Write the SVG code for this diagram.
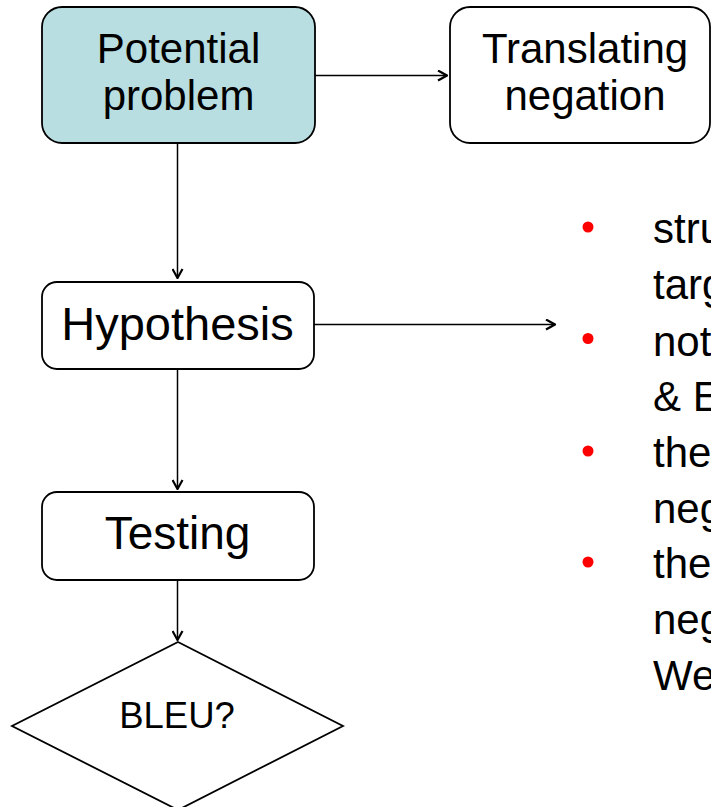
<svg xmlns="http://www.w3.org/2000/svg" width="711" height="807" viewBox="0 0 711 807">
  <style>
    .box { fill: #ffffff; stroke: #000000; stroke-width: 1.8; }
    .hl { fill: #b9dee1; }
    .lbl { font-family: "Liberation Sans", Arial, sans-serif; fill: #000000; text-anchor: middle; }
    .body { font-family: "Liberation Sans", Arial, sans-serif; fill: #000000; font-size: 42px; }
    .edge { stroke: #000000; stroke-width: 1.5; fill: none; marker-end: url(#arrow); }
    .dot { fill: #ff0000; }
  </style>
  <defs>
    <marker id="arrow" viewBox="0 0 12 12" refX="11" refY="6" markerWidth="12" markerHeight="12" markerUnits="userSpaceOnUse" orient="auto">
      <path d="M2,1 L11,6 L2,11" fill="none" stroke="#000000" stroke-width="2.2"/>
    </marker>
  </defs>
  <rect width="711" height="807" fill="#ffffff"/>

  <g id="connectors">
    <line class="edge" x1="315" y1="75.5" x2="447" y2="75.5"/>
    <line class="edge" x1="177.5" y1="143" x2="177.5" y2="278"/>
    <line class="edge" x1="314" y1="324.5" x2="555" y2="324.5"/>
    <line class="edge" x1="177.5" y1="369" x2="177.5" y2="489"/>
    <line class="edge" x1="177.5" y1="580" x2="177.5" y2="640"/>
  </g>

  <g id="potential-problem">
    <rect class="box hl" x="42" y="7" width="273" height="136" rx="20" ry="20"/>
    <text class="lbl" font-size="42" x="178.5" y="63">Potential</text>
    <text class="lbl" font-size="42" x="178.5" y="109.5">problem</text>
  </g>

  <g id="translating-negation">
    <rect class="box" x="450" y="7" width="260" height="136" rx="20" ry="20"/>
    <text class="lbl" font-size="42" x="585" y="63">Translating</text>
    <text class="lbl" font-size="42" x="585" y="109.5">negation</text>
  </g>

  <g id="hypothesis">
    <rect class="box" x="42" y="282" width="272" height="87" rx="15" ry="15"/>
    <text class="lbl" font-size="47" x="177.5" y="339.5">Hypothesis</text>
  </g>

  <g id="testing">
    <rect class="box" x="42" y="492" width="272" height="88" rx="15" ry="15"/>
    <text class="lbl" font-size="46" x="177.5" y="549">Testing</text>
  </g>

  <g id="bleu">
    <polygon class="box" points="178,642 343,726 178,810 12,726"/>
    <text class="lbl" font-size="36.5" x="177" y="727.5">BLEU?</text>
  </g>

  <g id="notes">
    <circle class="dot" cx="588" cy="227" r="5.5"/>
    <circle class="dot" cx="588" cy="338.5" r="5.5"/>
    <circle class="dot" cx="588" cy="451" r="5.5"/>
    <circle class="dot" cx="588" cy="562" r="5.5"/>
    <text class="body" x="653" y="243">stru</text>
    <text class="body" x="653" y="298.5">targ</text>
    <text class="body" x="653" y="355.5">not</text>
    <text class="body" x="653" y="411">&amp; E</text>
    <text class="body" x="653" y="467">the</text>
    <text class="body" x="653" y="522.5">neg</text>
    <text class="body" x="653" y="578">the</text>
    <text class="body" x="653" y="633.5">neg</text>
    <text class="body" x="653" y="689.5">We</text>
  </g>
</svg>
